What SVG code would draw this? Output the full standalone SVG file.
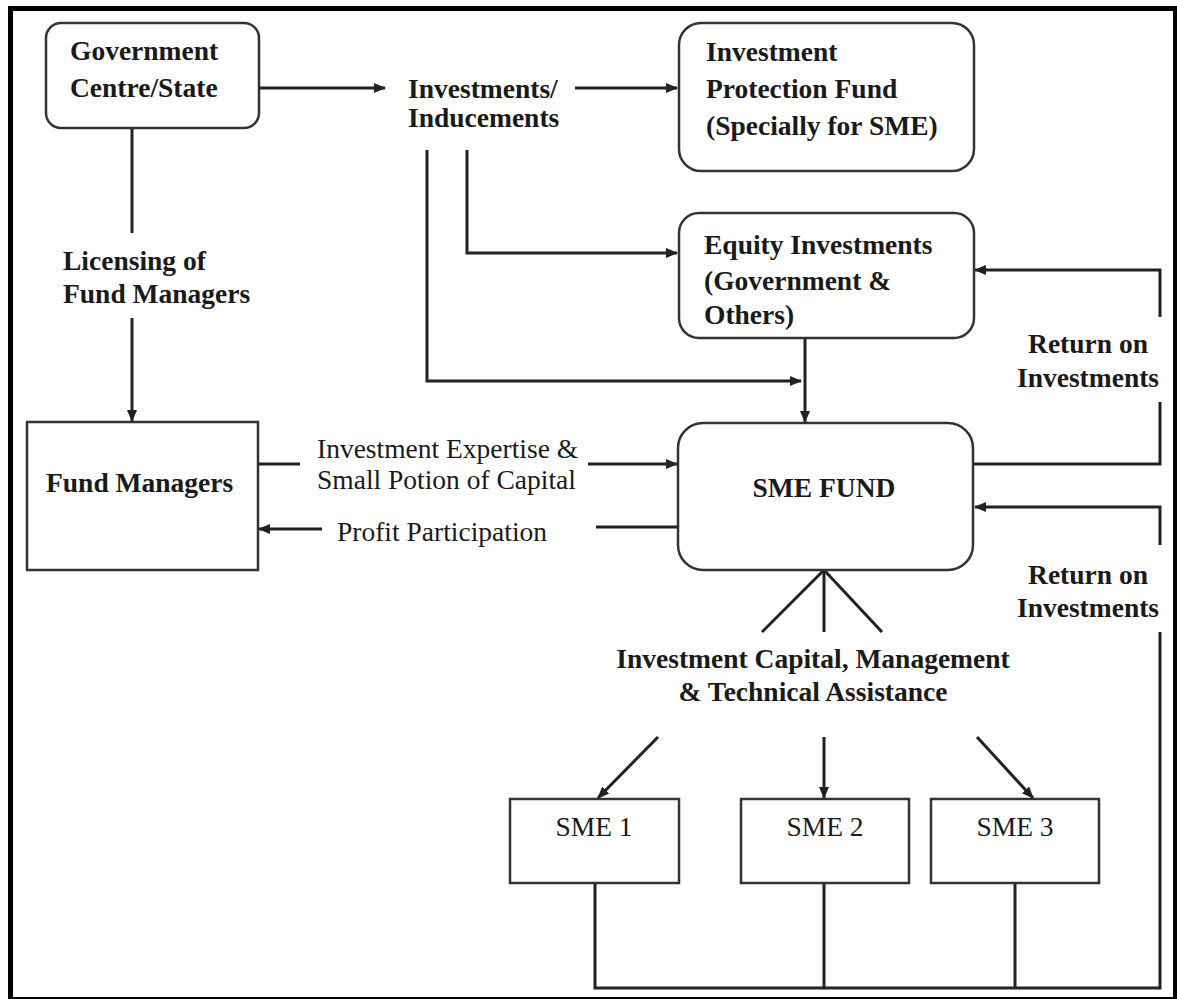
<svg xmlns="http://www.w3.org/2000/svg" width="1177" height="999" viewBox="0 0 1177 999">
<style>
.box{fill:#fff;stroke:#333;stroke-width:2.5}
.ln{fill:none;stroke:#222;stroke-width:3}
.t{font-family:"Liberation Serif","Times New Roman",serif;font-size:27.5px;fill:#1a1a1a}
.b{font-weight:bold}
.m{text-anchor:middle}
</style>
<defs>
<marker id="ah" markerUnits="userSpaceOnUse" markerWidth="12" markerHeight="10" refX="11" refY="5" orient="auto">
<path d="M0,0 L12,5 L0,10 z" fill="#222"/>
</marker>
</defs>
<rect x="0" y="0" width="1177" height="999" fill="#fff"/>
<g id="frame">
<rect x="8" y="6" width="5" height="993" fill="#000"/>
<rect x="8" y="6" width="1169" height="5" fill="#000"/>
<rect x="1173" y="6" width="4" height="993" fill="#000"/>
<rect x="8" y="997" width="1169" height="2" fill="#000"/>
</g>
<g id="connectors">
<line class="ln" x1="259" y1="88" x2="385" y2="88" marker-end="url(#ah)"/>
<line class="ln" x1="575" y1="88" x2="677" y2="88" marker-end="url(#ah)"/>
<polyline class="ln" points="467,150 467,253 677,253" marker-end="url(#ah)"/>
<polyline class="ln" points="427,150 427,381 801,381" marker-end="url(#ah)"/>
<line class="ln" x1="805" y1="338" x2="805" y2="422" marker-end="url(#ah)"/>
<line class="ln" x1="132" y1="128" x2="132" y2="233"/>
<line class="ln" x1="132" y1="318" x2="132" y2="421" marker-end="url(#ah)"/>
<line class="ln" x1="258" y1="464" x2="300" y2="464"/>
<line class="ln" x1="588" y1="464" x2="677" y2="464" marker-end="url(#ah)"/>
<line class="ln" x1="677" y1="527" x2="596" y2="527"/>
<line class="ln" x1="322" y1="529" x2="259" y2="529" marker-end="url(#ah)"/>
<polyline class="ln" points="973,464 1160,464 1160,402"/>
<polyline class="ln" points="1160,317 1160,270 975,270" marker-end="url(#ah)"/>
<polyline class="ln" points="1160,545 1160,507 975,507" marker-end="url(#ah)"/>
<polyline class="ln" points="1160,632 1160,988 595,988 595,883"/>
<line class="ln" x1="824" y1="988" x2="824" y2="883"/>
<line class="ln" x1="1015" y1="988" x2="1015" y2="883"/>
<line class="ln" x1="824" y1="570" x2="762" y2="632"/>
<line class="ln" x1="824" y1="570" x2="824" y2="632"/>
<line class="ln" x1="824" y1="570" x2="882" y2="632"/>
<line class="ln" x1="658" y1="737" x2="598" y2="798" marker-end="url(#ah)"/>
<line class="ln" x1="824" y1="737" x2="824" y2="798" marker-end="url(#ah)"/>
<line class="ln" x1="977" y1="737" x2="1033" y2="798" marker-end="url(#ah)"/>
</g>
<g id="labels">
<text class="t b" x="408" y="98">Investments/</text>
<text class="t b" x="408" y="127">Inducements</text>
<text class="t b" x="63" y="270">Licensing of</text>
<text class="t b" x="63" y="303">Fund Managers</text>
<text class="t" x="317" y="458">Investment Expertise &amp;</text>
<text class="t" x="317" y="489">Small Potion of Capital</text>
<text class="t" x="337" y="541">Profit Participation</text>
<text class="t b m" x="1088" y="353">Return on</text>
<text class="t b m" x="1088" y="387">Investments</text>
<text class="t b m" x="1088" y="584">Return on</text>
<text class="t b m" x="1088" y="617">Investments</text>
<text class="t b m" x="813" y="668">Investment Capital, Management</text>
<text class="t b m" x="813" y="701">&amp; Technical Assistance</text>
</g>
<g id="gov">
<rect class="box" x="46" y="23" width="213" height="105" rx="15"/>
<text class="t b" x="70" y="60">Government</text>
<text class="t b" x="70" y="97">Centre/State</text>
</g>
<g id="ipf">
<rect class="box" x="679" y="23" width="295" height="148" rx="22"/>
<text class="t b" x="706" y="61">Investment</text>
<text class="t b" x="706" y="98">Protection Fund</text>
<text class="t b" x="706" y="135">(Specially for SME)</text>
</g>
<g id="equity">
<rect class="box" x="679" y="213" width="295" height="125" rx="20"/>
<text class="t b" x="704" y="254">Equity Investments</text>
<text class="t b" x="704" y="290">(Government &amp;</text>
<text class="t b" x="704" y="324">Others)</text>
</g>
<g id="fundmanagers">
<rect class="box" x="27" y="422" width="231" height="148"/>
<text class="t b" x="46" y="492">Fund Managers</text>
</g>
<g id="smefund">
<rect class="box" x="678" y="423" width="295" height="147" rx="25"/>
<text class="t b m" x="824" y="497">SME FUND</text>
</g>
<g id="sme1">
<rect class="box" x="510" y="799" width="169" height="84"/>
<text class="t m" x="594" y="836">SME 1</text>
</g>
<g id="sme2">
<rect class="box" x="741" y="799" width="168" height="84"/>
<text class="t m" x="825" y="836">SME 2</text>
</g>
<g id="sme3">
<rect class="box" x="931" y="799" width="168" height="84"/>
<text class="t m" x="1015" y="836">SME 3</text>
</g>
</svg>
